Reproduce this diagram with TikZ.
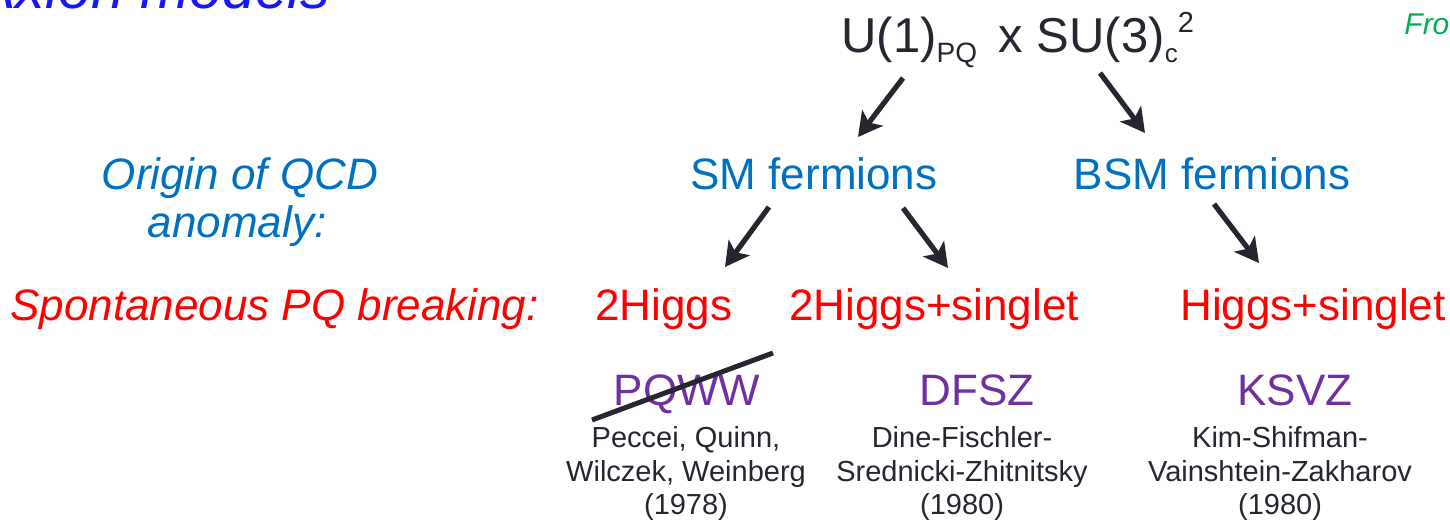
\documentclass[tikz,border=0pt]{standalone}
\usepackage{fontspec}
\setmainfont{Liberation Sans}
\usetikzlibrary{arrows.meta}

\definecolor{titleblue}{RGB}{22,22,250}
\definecolor{lblue}{RGB}{0,112,192}
\definecolor{lred}{RGB}{255,0,0}
\definecolor{lpurple}{RGB}{112,48,160}
\definecolor{ink}{RGB}{38,38,48}
\definecolor{lgreen}{RGB}{0,176,80}

\tikzset{
  big/.style={font=\fontsize{22}{26}\selectfont, inner sep=0pt},
  bigit/.style={font=\itshape\fontsize{22}{26}\selectfont, inner sep=0pt},
  small/.style={font=\fontsize{14.5}{16.75}\selectfont, inner sep=0pt, align=center, text=ink},
  arr/.style={draw=ink, line width=2.6pt, -{Stealth[length=12pt,width=13pt,inset=3pt]}},
  strike/.style={draw=ink, line width=2.5pt},
}

\begin{document}
\begin{tikzpicture}[x=0.5pt,y=-0.5pt]
\useasboundingbox (0,0) rectangle (1450,522);
\clip (0,0) rectangle (1450,522);

% headings
\node[anchor=base west, inner sep=0pt, text=titleblue,
      font=\itshape\fontsize{29.5}{34}\selectfont] (title) at (-24,9) {Axion models};
\node[anchor=base west, inner sep=0pt, text=lgreen,
      font=\itshape\fontsize{15}{17}\selectfont] (from) at (1404,35) {Fro};

% symmetry group
\node[anchor=base west, inner sep=0pt, text=ink, font=\fontsize{24.5}{28}\selectfont] (top) at (841,53)
  {U(1)\raisebox{-5pt}{\fontsize{14}{14}\selectfont PQ}\hspace{4pt} x SU(3)\raisebox{-5pt}{\fontsize{13}{13}\selectfont c}\raisebox{10pt}{\fontsize{14.5}{14}\selectfont 2}};

% origin of the anomaly
\node[bigit, anchor=base, text=lblue] (origin) at (240,190) {Origin of QCD};
\node[bigit, anchor=base, text=lblue] (anom) at (237,238) {anomaly:};
\node[big, anchor=base, text=lblue] (smf) at (814,190) {SM fermions};
\node[big, anchor=base, text=lblue] (bsmf) at (1212,190) {BSM fermions};

% breaking sector
\node[bigit, anchor=base west, text=lred] (spont) at (10,321) {Spontaneous PQ breaking:};
\node[big, anchor=base, text=lred] (hig2) at (664,321) {2Higgs};
\node[big, anchor=base, text=lred] (hig2s) at (934,321) {2Higgs+singlet};
\node[big, anchor=base, text=lred] (higs) at (1313,321) {Higgs+singlet};

% models
\node[big, anchor=base, text=lpurple] (pqww) at (687,406) {PQWW};
\node[big, anchor=base, text=lpurple] (dfsz) at (977,406) {DFSZ};
\node[big, anchor=base, text=lpurple] (ksvz) at (1295,406) {KSVZ};

% authors (anchored on the baseline of the last line)
\node[small, anchor=base] (pqwwref) at (686,515) {Peccei, Quinn,\\Wilczek, Weinberg\\(1978)};
\node[small, anchor=base] (dfszref) at (962,515) {Dine-Fischler-\\Srednicki-Zhitnitsky\\(1980)};
\node[small, anchor=base] (ksvzref) at (1280,515) {Kim-Shifman-\\Vainshtein-Zakharov\\(1980)};

% connector end points
\coordinate (a1s) at (903,78);   \coordinate (a1e) at (858,137);
\coordinate (a2s) at (1100,73);  \coordinate (a2e) at (1145,133);
\coordinate (a3s) at (769,207);  \coordinate (a3e) at (725,267);
\coordinate (a4s) at (903,208);  \coordinate (a4e) at (948,268);
\coordinate (a5s) at (1214,204); \coordinate (a5e) at (1259,263);
\coordinate (s1) at (592,420);   \coordinate (s2) at (773,353);

\draw[arr] (a1s) -- (a1e);
\draw[arr] (a2s) -- (a2e);
\draw[arr] (a3s) -- (a3e);
\draw[arr] (a4s) -- (a4e);
\draw[arr] (a5s) -- (a5e);

% PQWW is struck out
\draw[strike] (s1) -- (s2);
\end{tikzpicture}
\end{document}
